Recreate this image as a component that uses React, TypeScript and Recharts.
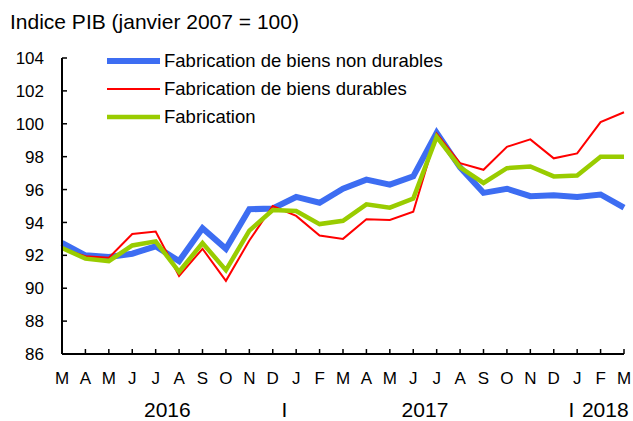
import React from 'react';
import { LineChart, Line, XAxis, YAxis, Legend } from 'recharts';

const months = ['M','A','M','J','J','A','S','O','N','D','J','F','M','A','M','J','J','A','S','O','N','D','J','F','M'];
const nonDurables = [92.75, 92.0, 91.9, 92.1, 92.55, 91.65, 93.65, 92.4, 94.8, 94.85, 95.55, 95.2, 96.05, 96.6, 96.3, 96.8, 99.45, 97.35, 95.8, 96.05, 95.6, 95.65, 95.55, 95.7, 94.9];
const durables = [92.4, 91.95, 91.85, 93.3, 93.45, 90.75, 92.4, 90.45, 92.9, 95.0, 94.4, 93.2, 93.0, 94.2, 94.15, 94.65, 99.4, 97.6, 97.2, 98.6, 99.05, 97.9, 98.2, 100.1, 100.7];
const fabrication = [92.45, 91.8, 91.65, 92.6, 92.85, 91.0, 92.75, 91.1, 93.5, 94.75, 94.7, 93.9, 94.1, 95.1, 94.9, 95.45, 99.2, 97.35, 96.4, 97.3, 97.4, 96.8, 96.85, 98.0, 98.0];
const yTicks = [86, 88, 90, 92, 94, 96, 98, 100, 102, 104];
const yearTicks = [4.5, 9.5, 15.5, 21.75, 23.2];
const yearLabels = ['2016', 'I', '2017', 'I', '2018'];
const title = 'Indice PIB (janvier 2007 = 100)';

const seriesInfo = [
  { key: 'nd', name: 'Fabrication de biens non durables', color: '#3D6DF2', width: 6 },
  { key: 'd', name: 'Fabrication de biens durables', color: '#FF0000', width: 2 },
  { key: 'f', name: 'Fabrication', color: '#99CC00', width: 4.5 },
];

const data = months.map((m, i) => ({ idx: i, nd: nonDurables[i], d: durables[i], f: fabrication[i] }));

const FONT = '"Liberation Sans", Arial, Helvetica, sans-serif';

const YTick = (props: any) => {
  const { x, y, payload } = props;
  return (
    <g>
      <line x1={x} x2={x + 5} y1={y} y2={y} stroke="#000" strokeWidth={1.5} />
      <text x={x - 18} y={y} dy="0.36em" textAnchor="end" fontSize={17} fontFamily={FONT} fill="#000">
        {payload.value}
      </text>
    </g>
  );
};

const MonthTick = (props: any) => {
  const { x, y, payload } = props;
  return (
    <g>
      <line x1={x} x2={x} y1={y} y2={y - 5} stroke="#000" strokeWidth={1.5} />
      <text x={x} y={y + 30} textAnchor="middle" fontSize={17} fontFamily={FONT} fill="#000">
        {months[payload.value]}
      </text>
    </g>
  );
};

const YearTick = (props: any) => {
  const { x, y, payload } = props;
  const i = yearTicks.indexOf(payload.value);
  return (
    <text x={x} y={y + 33} textAnchor="middle" fontSize={21} fontFamily={FONT} fill="#000">
      {i >= 0 ? yearLabels[i] : ''}
    </text>
  );
};

const LegendContent = (props: any) => {
  const payload: any[] = props.payload || [];
  const ordered = seriesInfo.filter((s) => payload.some((p) => p.dataKey === s.key));
  return (
    <div style={{ fontFamily: FONT }}>
      {ordered.map((info) => (
        <div key={info.key} style={{ display: 'flex', alignItems: 'center', height: 28 }}>
          <svg width={53} height={10} style={{ display: 'block' }}>
            <line x1={0} x2={53} y1={5} y2={5} stroke={info.color} strokeWidth={info.width} />
          </svg>
          <span style={{ marginLeft: 4, fontSize: 18.5, color: '#000', whiteSpace: 'nowrap' }}>{info.name}</span>
        </div>
      ))}
    </div>
  );
};

export default function App() {
  return (
    <div style={{ position: 'absolute', left: 0, top: 0, width: 633, height: 421, background: '#fff' }}>
      <div
        style={{
          position: 'absolute',
          left: 10,
          top: 10,
          fontFamily: FONT,
          fontSize: 21,
          lineHeight: '24px',
          color: '#000',
          whiteSpace: 'nowrap',
          zIndex: 2,
        }}
      >
        {title}
      </div>
      <LineChart width={633} height={421} data={data} margin={{ top: 58, right: 9, left: 0, bottom: 0 }}>
        <XAxis
          dataKey="idx"
          type="category"
          height={30}
          axisLine={{ stroke: '#000', strokeWidth: 2 }}
          tickLine={false}
          tickSize={0}
          tickMargin={0}
          interval={0}
          tick={MonthTick}
        />
        <XAxis
          xAxisId="yr"
          dataKey="idx"
          type="number"
          domain={[0, 24]}
          ticks={yearTicks}
          height={37}
          axisLine={false}
          tickLine={false}
          tickSize={0}
          tickMargin={0}
          interval={0}
          tick={YearTick}
        />
        <YAxis
          domain={[86, 104]}
          ticks={yTicks}
          width={62}
          axisLine={{ stroke: '#000', strokeWidth: 2 }}
          tickLine={false}
          tickSize={0}
          tickMargin={0}
          interval={0}
          tick={YTick}
        />
        <Legend
          layout="vertical"
          align="center"
          verticalAlign="middle"
          content={LegendContent}
          wrapperStyle={{ position: 'absolute', top: 47, left: 107, width: 'auto' }}
        />
        {seriesInfo.map((s) => (
          <Line
            key={s.key}
            dataKey={s.key}
            name={s.name}
            type="linear"
            stroke={s.color}
            strokeWidth={s.width}
            dot={false}
            activeDot={false}
            isAnimationActive={false}
          />
        ))}
      </LineChart>
    </div>
  );
}
